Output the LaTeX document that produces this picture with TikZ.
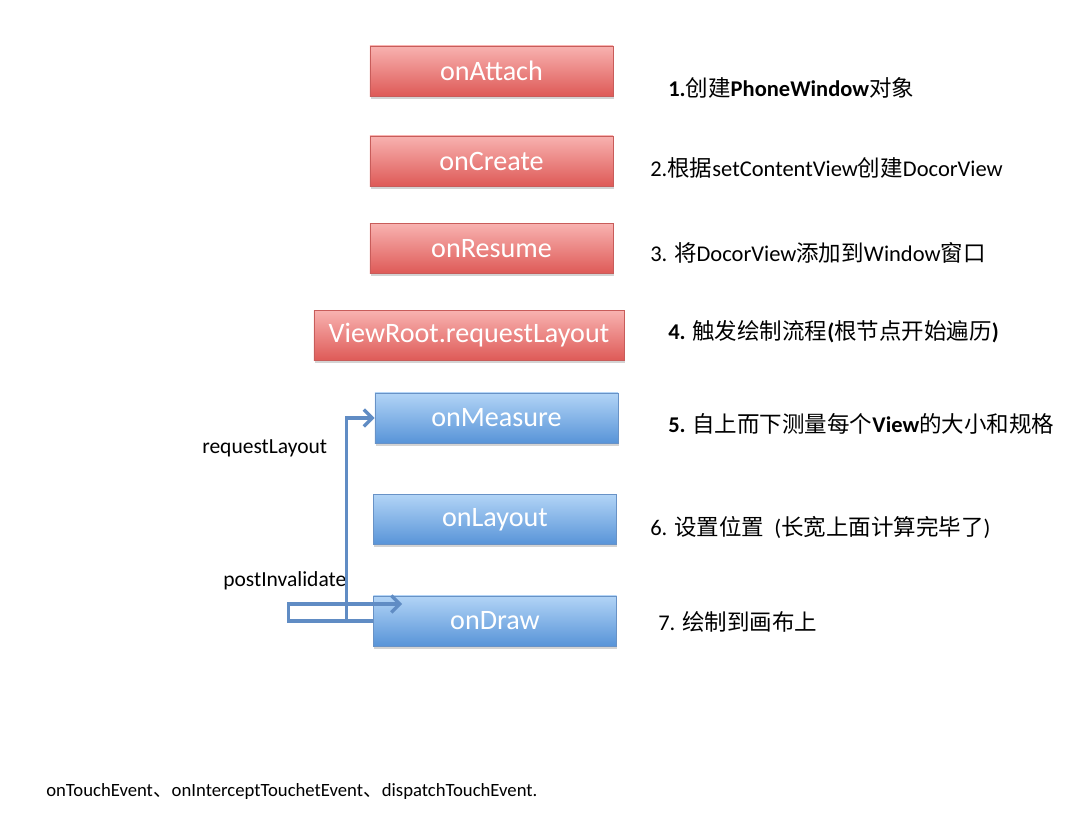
\documentclass[tikz,border=0pt]{standalone}
\usepackage{fontspec}
\setmainfont{Carlito}
\newfontfamily\cjk{Noto Sans CJK SC}
\newcommand{\zh}[1]{{\cjk\mdseries #1}}
\usepackage{tikz}
\usetikzlibrary{arrows.meta, shadows}
\definecolor{redTop}{RGB}{248,178,176}
\definecolor{redBot}{RGB}{222,90,87}
\definecolor{redLine}{RGB}{200,92,90}
\definecolor{blueTop}{RGB}{178,212,246}
\definecolor{blueBot}{RGB}{88,148,216}
\definecolor{blueLine}{RGB}{104,146,198}
\definecolor{flowBlue}{RGB}{96,140,196}
\tikzset{
    stage/.style={
        rectangle,
        minimum width=6.075cm,
        minimum height=1.25cm,
        inner sep=0pt,
        text=white,
        font=\fontsize{20}{24}\selectfont,
        drop shadow={shadow xshift=0.6pt, shadow yshift=-2pt, opacity=0.35}
    },
    redstage/.style={
        stage,
        draw=redLine,
        top color=redTop,
        bottom color=redBot
    },
    bluestage/.style={
        stage,
        draw=blueLine,
        top color=blueTop,
        bottom color=blueBot
    },
    note/.style={
        anchor=west,
        inner sep=0pt,
        font=\fontsize{16}{19}\selectfont
    },
    flow/.style={
        draw=flowBlue,
        line width=2.4pt,
        -{Straight Barb[length=6pt,width=12pt]}
    }
}

\begin{document}
\begin{tikzpicture}[x=0.025cm, y=-0.025cm]
            \useasboundingbox (0,0) rectangle (1079,819);

            % Stages
            \node (attach) [redstage] at (491.5,71) {onAttach};
            \node (create) [redstage] at (491.5,161) {onCreate};
            \node (resume) [redstage] at (491.5,248.5) {onResume};
            \node (rootLayout) [
                redstage,
                minimum width=7.75cm,
            ] at (469,335.5) {ViewRoot.requestLayout};
            \node (measure) [bluestage] at (496.5,418) {onMeasure};
            \node (layout) [bluestage] at (495,519.5) {onLayout};
            \node (drawV) [bluestage] at (495,621) {onDraw};

            % Notes
            \node (note1) [note, font=\fontsize{16}{19}\selectfont\bfseries] at (668,88) {1.\zh{创建}PhoneWindow\zh{对象}};
            \node (note2) [note] at (650,168) {2.\zh{根据}setContentView\zh{创建}DocorView};
            \node (note3) [note] at (650,253) {3. \zh{将}DocorView\zh{添加到}Window\zh{窗口}};
            \node (note4) [note, font=\fontsize{16}{19}\selectfont\bfseries] at (668,332) {4. \zh{触发绘制流程}(\zh{根节点开始遍历})};
            \node (note5) [note, font=\fontsize{16}{19}\selectfont\bfseries] at (668,424) {5. \zh{自上而下测量每个}View\zh{的大小和规格}};
            \node (note6) [note] at (650,527) {6. \zh{设置位置}\ \ (\zh{长宽上面计算完毕了})};
            \node (note7) [note] at (658,622) {7. \zh{绘制到画布上}};

            % Edges
            \node (reqText) [note, font=\fontsize{15.3}{18}\selectfont] at (202,448) {requestLayout};
            \node (postText) [note, font=\fontsize{15.3}{18}\selectfont] at (223,581) {postInvalidate};
            \coordinate (drawIn) at ([xshift=0.725cm, yshift=0.425cm]drawV.west);
            \draw [flow] (drawV.west) -- ++(-27,0) |- (measure.west);
            \draw [flow] (drawV.west) -- ++(-85,0) |- (drawIn);

            % Touch events
            \node (touch) [note, font=\fontsize{13.3}{16}\selectfont] at (46,792) {onTouchEvent\zh{、}onInterceptTouchetEvent\zh{、}dispatchTouchEvent.};
        \end{tikzpicture}
\end{document}
